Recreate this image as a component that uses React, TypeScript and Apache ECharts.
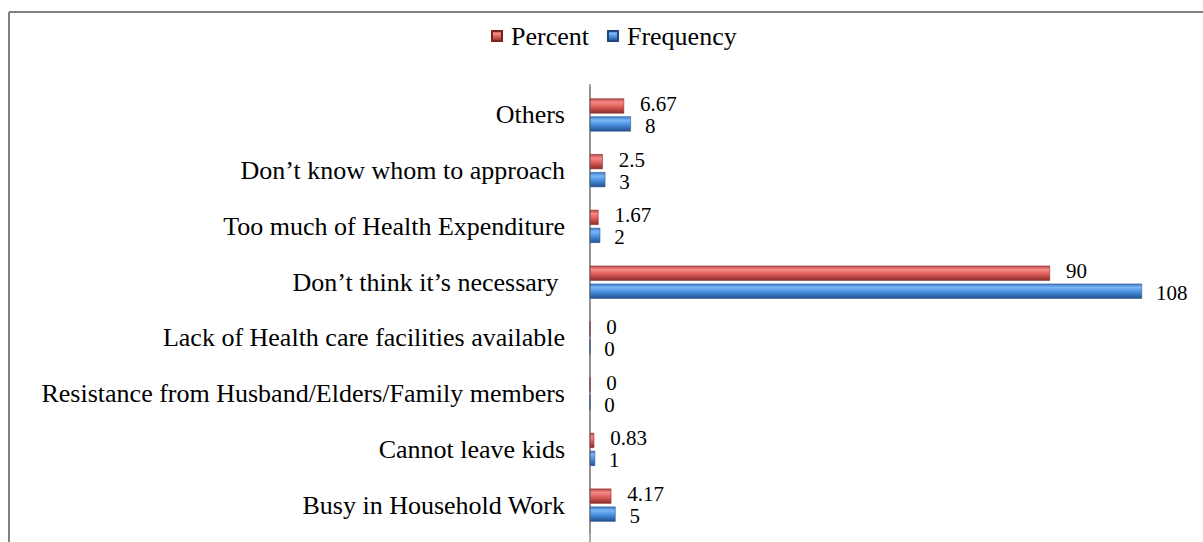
import React, { useEffect, useRef } from "react";
import * as echarts from "echarts";

const categories = [
  "Busy in Household Work",
  "Cannot leave kids",
  "Resistance from Husband/Elders/Family members",
  "Lack of Health care facilities available",
  "Don’t think it’s necessary ",
  "Too much of Health Expenditure",
  "Don’t know whom to approach",
  "Others",
];
const percentValues = [4.17, 0.83, 0, 0, 90, 1.67, 2.5, 6.67];
const frequencyValues = [5, 1, 0, 0, 108, 2, 3, 8];

const FONT = "'Liberation Serif', 'Times New Roman', serif";

const redGrad = new echarts.graphic.LinearGradient(0, 0, 0, 1, [
  { offset: 0, color: "#b84542" },
  { offset: 0.25, color: "#f58a86" },
  { offset: 0.55, color: "#e0605c" },
  { offset: 1, color: "#8e2b29" },
]);
const blueGrad = new echarts.graphic.LinearGradient(0, 0, 0, 1, [
  { offset: 0, color: "#3c78c8" },
  { offset: 0.25, color: "#7ab8f5" },
  { offset: 0.55, color: "#4a90e0" },
  { offset: 1, color: "#24518f" },
]);

export default function App() {
  const ref = useRef<HTMLDivElement>(null);
  useEffect(() => {
    const chart = echarts.init(ref.current!, null, { renderer: "svg" });
    chart.setOption({
      animation: false,
      backgroundColor: "#ffffff",
      legend: {
        data: ["Percent", "Frequency"],
        left: 486,
        top: 18,
        icon: "rect",
        itemWidth: 10,
        itemHeight: 10,
        itemGap: 18,
        textStyle: {
          fontFamily: FONT,
          fontSize: 26,
          color: "#000",
          padding: [0, 0, 0, 4],
        },
      },
      grid: { left: 590, right: 61, top: 87, bottom: 9, containLabel: false },
      xAxis: {
        type: "value",
        min: 0,
        max: 108,
        show: false,
        splitLine: { show: false },
      },
      yAxis: {
        type: "category",
        data: categories,
        axisLine: { show: true, lineStyle: { color: "#8c8c8c", width: 1.5 } },
        axisTick: { show: false },
        axisLabel: {
          fontFamily: FONT,
          fontSize: 26,
          color: "#000",
          margin: 25,
        },
      },
      series: [
        {
          name: "Percent",
          type: "bar",
          data: percentValues,
          barWidth: 15,
          barGap: "20%",
          itemStyle: { color: redGrad, borderColor: "#7a2422", borderWidth: 0.5 },
          label: {
            show: true,
            position: "right",
            distance: 16,
            offset: [0, -2],
            fontFamily: FONT,
            fontSize: 21,
            lineHeight: 21,
            color: "#000",
          },
        },
        {
          name: "Frequency",
          type: "bar",
          data: frequencyValues,
          barWidth: 15,
          barGap: "20%",
          itemStyle: { color: blueGrad, borderColor: "#1f4680", borderWidth: 0.5 },
          label: {
            show: true,
            position: "right",
            distance: 14,
            offset: [0, 2],
            fontFamily: FONT,
            fontSize: 21,
            lineHeight: 21,
            color: "#000",
          },
        },
      ],
      graphic: [
        {
          type: "line",
          shape: { x1: 9, y1: 12, x2: 1203, y2: 12 },
          style: { stroke: "#808080", lineWidth: 2 },
        },
        {
          type: "line",
          shape: { x1: 9, y1: 12, x2: 9, y2: 542 },
          style: { stroke: "#808080", lineWidth: 2 },
        },
        {
          type: "line",
          shape: { x1: 590, y1: 84, x2: 590, y2: 542 },
          style: { stroke: "#8c8c8c", lineWidth: 1.5 },
        },
      ],
    });
    return () => chart.dispose();
  }, []);
  return (
    <div
      ref={ref}
      style={{ position: "fixed", left: 0, top: 0, width: 1203, height: 542 }}
    />
  );
}
